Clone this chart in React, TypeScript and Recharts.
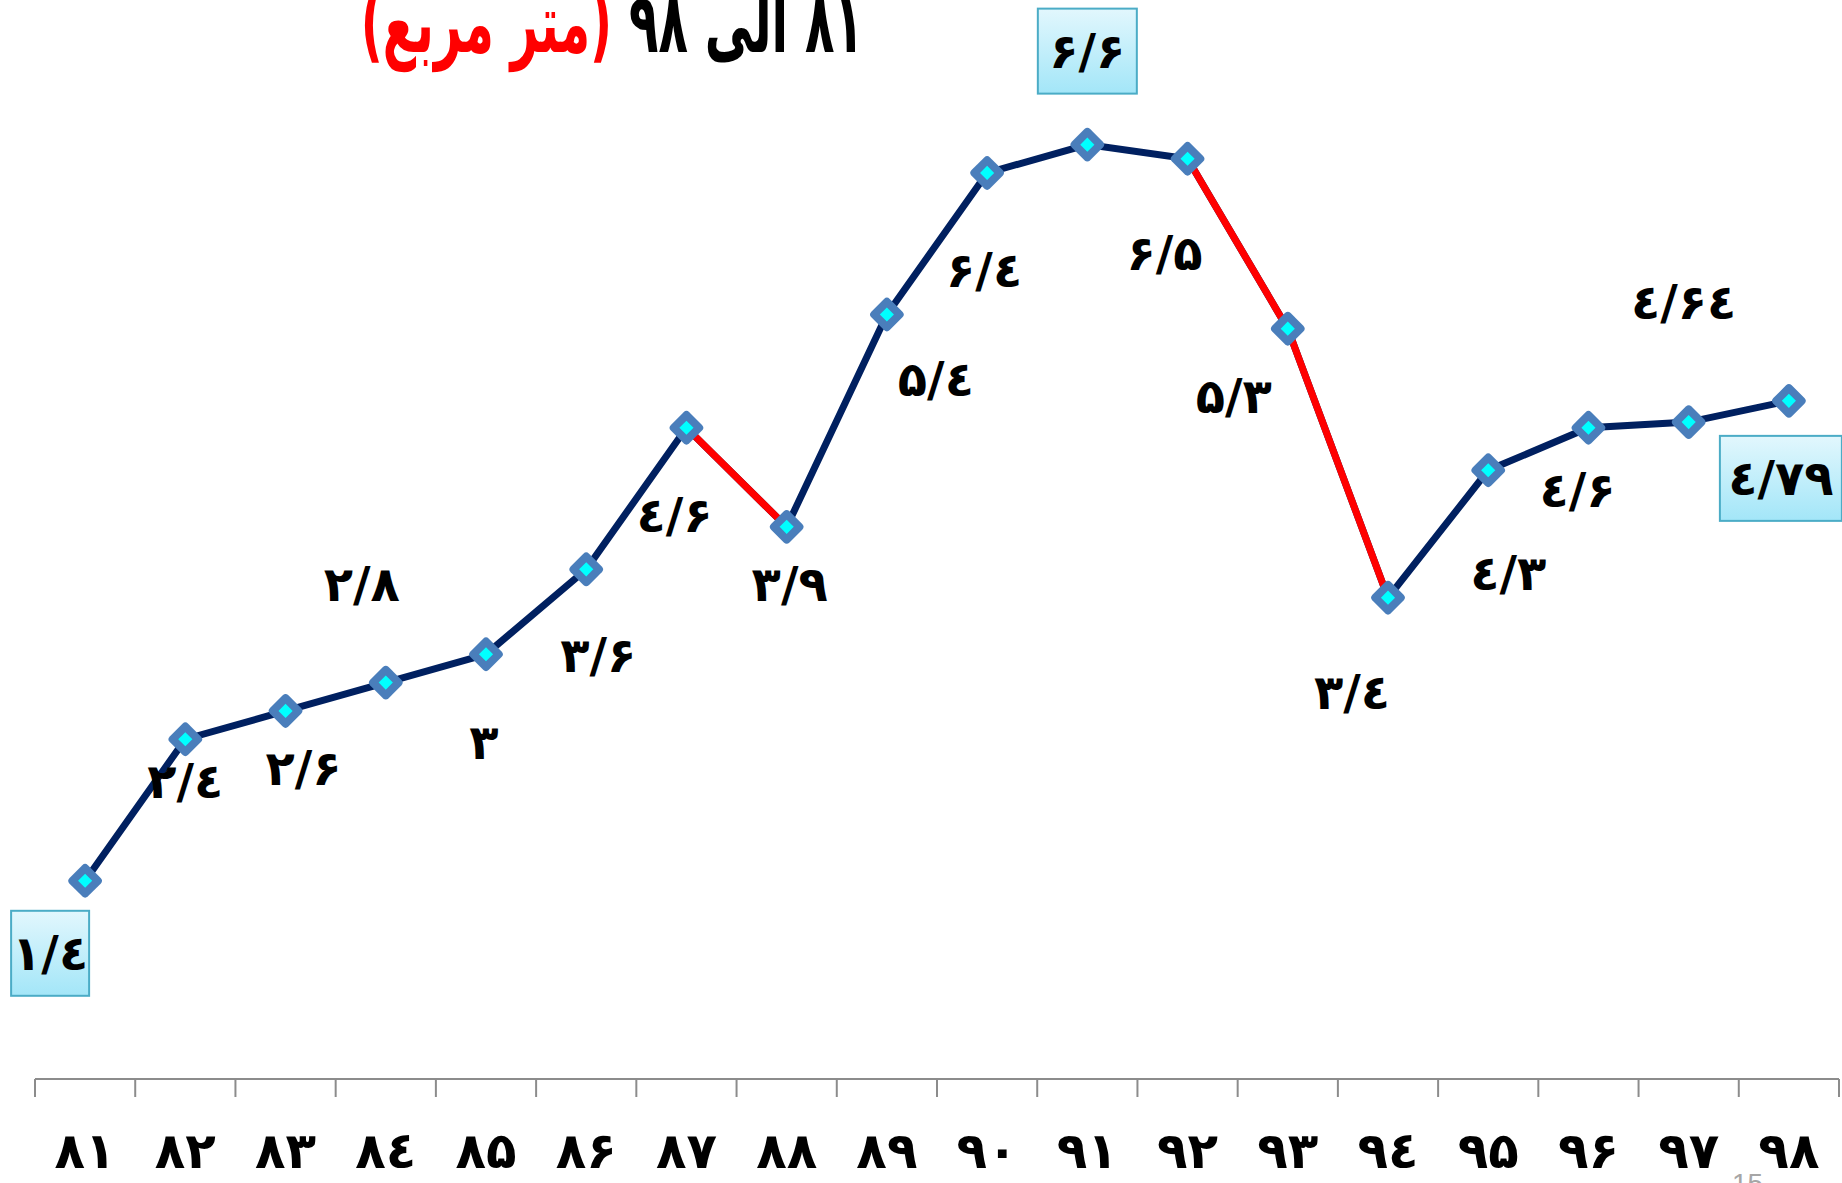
import React from "react";
import { LineChart, Line, XAxis, YAxis } from "recharts";

// years 81..98 and per-capita values (square metres)
const YEARS = [81, 82, 83, 84, 85, 86, 87, 88, 89, 90, 91, 92, 93, 94, 95, 96, 97, 98];
const YEAR_LABELS = [
  "۸۱", "۸۲", "۸۳", "۸٤", "۸۵", "۸۶", "۸۷", "۸۸", "۸۹",
  "۹۰", "۹۱", "۹۲", "۹۳", "۹٤", "۹۵", "۹۶", "۹۷", "۹۸",
];
const VALUES = [1.4, 2.4, 2.6, 2.8, 3, 3.6, 4.6, 3.9, 5.4, 6.4, 6.6, 6.5, 5.3, 3.4, 4.3, 4.6, 4.64, 4.79];
const VALUE_LABELS = [
  "۱/٤", "۲/٤", "۲/۶", "۲/۸", "۳", "۳/۶", "٤/۶", "۳/۹", "۵/٤",
  "۶/٤", "۶/۶", "۶/۵", "۵/۳", "۳/٤", "٤/۳", "٤/۶", "٤/۶٤", "٤/۷۹",
];
// index ranges drawn in red (drops)
const RED_RUNS = [
  [6, 7],
  [11, 13],
];

// label placement relative to each point (hand placed in the original)
const LABEL_POS = [
  [-35, 72], [0, 41], [18, 57], [-24, -99], [-2, 87], [12, 85], [-12, 87], [3, 57], [49, 64],
  [-3, 97], [0, -94], [-23, 94], [-54, 67], [-36, 94], [20, 102], [-11, 62], [-5, -120], [-8, 77],
];
const BOX_W: Record<number, number> = { 0: 78, 10: 99, 17: 122 };

const LRO = "\u202D";
const PDF = "\u202C";
const FONT = "'DejaVu Sans', sans-serif";

const data = YEARS.map((year, i) => ({
  year,
  value: VALUES[i],
  red: RED_RUNS.some(([a, b]) => i >= a && i <= b) ? VALUES[i] : null,
}));

const TICKS = [...YEARS.map((y) => y - 0.5), YEARS[YEARS.length - 1] + 0.5, ...YEARS];

function renderTick(props: any) {
  const { x, y, payload } = props;
  const v = payload.value as number;
  if (Number.isInteger(v)) {
    const label = YEAR_LABELS[YEARS.indexOf(v)];
    return (
      <text x={x} y={y + 89} textAnchor="middle" fontFamily={FONT} fontWeight="bold" fontSize={50} fill="#000">
        {LRO + label + PDF}
      </text>
    );
  }
  return <line x1={x} y1={y} x2={x} y2={y + 18} stroke="#8C8C8C" strokeWidth={2} />;
}

function renderDot(props: any) {
  const { cx, cy, index } = props;
  if (cx == null || cy == null) return <g key={index} />;
  return (
    <g key={index} transform={`translate(${cx},${cy}) rotate(45)`}>
      <rect x={-13} y={-13} width={26} height={26} rx={4} fill="#4A7EBB" />
      <rect x={-5} y={-5} width={10} height={10} fill="#00FFFF" />
    </g>
  );
}

function renderLabel(props: any) {
  const { x, y, index } = props;
  const [dx, dy] = LABEL_POS[index];
  const cx = x + dx;
  const cy = y + dy;
  const w = BOX_W[index];
  return (
    <g key={index}>
      {w ? (
        <rect x={cx - w / 2} y={cy - 42} width={w} height={85} fill="url(#boxGrad)" stroke="#4BACC6" strokeWidth={2} />
      ) : null}
      <text x={cx} y={cy} dy="0.36em" textAnchor="middle" fontFamily={FONT} fontWeight="bold" fontSize={48} fill="#000">
        {LRO + VALUE_LABELS[index] + PDF}
      </text>
    </g>
  );
}

export default function App() {
  return (
    <div
      style={{
        position: "absolute",
        left: 0,
        top: 0,
        width: 1842,
        height: 1183,
        background: "#fff",
        overflow: "hidden",
      }}
    >
      <LineChart width={1842} height={1183} data={data} margin={{ top: 88, right: 3, bottom: 0, left: 35 }}>
        <defs>
          <linearGradient id="boxGrad" x1="0" y1="0" x2="0" y2="1">
            <stop offset="0%" stopColor="#E2F7FD" />
            <stop offset="100%" stopColor="#A3E6F8" />
          </linearGradient>
        </defs>
        <XAxis
          dataKey="year"
          type="number"
          domain={[80.5, 98.5]}
          ticks={TICKS}
          interval={0}
          height={104}
          axisLine={{ stroke: "#8C8C8C", strokeWidth: 2 }}
          tickLine={false}
          tickSize={0}
          tickMargin={0}
          tick={renderTick}
        />
        <YAxis hide domain={[0, 7]} />
        <Line dataKey="value" stroke="#002060" strokeWidth={7} dot={false} activeDot={false} isAnimationActive={false} />
        <Line dataKey="red" stroke="#FF0000" strokeWidth={7} dot={false} activeDot={false} isAnimationActive={false} />
        <Line
          dataKey="value"
          stroke="none"
          dot={renderDot}
          activeDot={false}
          label={renderLabel}
          isAnimationActive={false}
        />
      </LineChart>
      <div
        style={{
          position: "absolute",
          right: 978,
          top: -9,
          direction: "rtl",
          whiteSpace: "nowrap",
          fontFamily: FONT,
          fontWeight: "bold",
          fontSize: 72,
          lineHeight: 1,
          color: "#000",
          transform: "scale(0.67, 1.15)",
          transformOrigin: "right 61px",
        }}
      >
        ۸۱ الی ۹۸ <span style={{ color: "#FF0000" }}>(متر مربع)</span>
      </div>
      <div
        style={{
          position: "absolute",
          left: 1732,
          top: 1170,
          fontFamily: "'Liberation Sans', sans-serif",
          fontSize: 28,
          lineHeight: 1,
          color: "#A6A6A6",
        }}
      >
        15
      </div>
    </div>
  );
}
